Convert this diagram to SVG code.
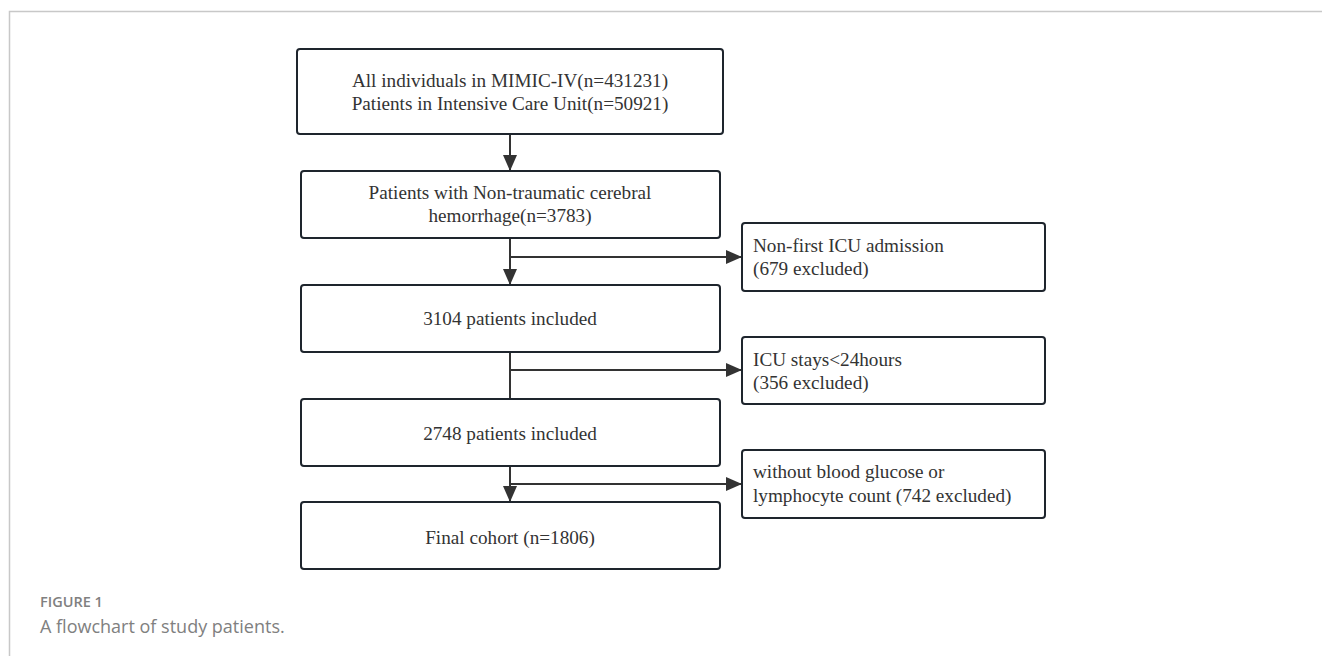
<svg xmlns="http://www.w3.org/2000/svg" width="1322" height="656" viewBox="0 0 1322 656">
<style>
.box{fill:#fff;stroke:#1e252d;stroke-width:2}
.t{font-family:"Liberation Serif","Times New Roman",serif;font-size:19.2px;fill:#333}
.c{text-anchor:middle}
.ln{stroke:#333;stroke-width:2;fill:none}
.cap{font-family:"Open Sans",Lato,sans-serif;fill:#808080}
</style>
<defs>
<marker id="ah2" viewBox="0 0 16 14" refX="16" refY="7" markerWidth="16" markerHeight="14" markerUnits="userSpaceOnUse" orient="auto">
<path d="M0,0 L16,7 L0,14 z" fill="#333"/>
</marker>
</defs>
<rect width="1322" height="656" fill="#fff"/>
<path d="M9.5,656 V11.5 H1322" stroke="#c8c8c8" stroke-width="1.5" fill="none"/>
<g id="connectors">
<line class="ln" x1="510" y1="134" x2="510" y2="171" marker-end="url(#ah2)"/>
<line class="ln" x1="510" y1="238" x2="510" y2="285" marker-end="url(#ah2)"/>
<line class="ln" x1="510" y1="257" x2="742" y2="257" marker-end="url(#ah2)"/>
<line class="ln" x1="510" y1="352" x2="510" y2="399"/>
<line class="ln" x1="510" y1="370" x2="742" y2="370" marker-end="url(#ah2)"/>
<line class="ln" x1="510" y1="466" x2="510" y2="502" marker-end="url(#ah2)"/>
<line class="ln" x1="510" y1="484" x2="742" y2="484" marker-end="url(#ah2)"/>
</g>
<g id="n1">
<rect class="box" x="297" y="49" width="426" height="85" rx="3"/>
<text class="t c" x="510" y="87">All individuals in MIMIC-IV(n=431231)</text>
<text class="t c" x="510" y="110">Patients in Intensive Care Unit(n=50921)</text>
</g>
<g id="n2">
<rect class="box" x="301" y="171" width="419" height="67" rx="3"/>
<text class="t c" x="510" y="199">Patients with Non-traumatic cerebral</text>
<text class="t c" x="510" y="222">hemorrhage(n=3783)</text>
</g>
<g id="n3">
<rect class="box" x="301" y="285" width="419" height="67" rx="3"/>
<text class="t c" x="510" y="325">3104 patients included</text>
</g>
<g id="n4">
<rect class="box" x="301" y="399" width="419" height="67" rx="3"/>
<text class="t c" x="510" y="440">2748 patients included</text>
</g>
<g id="n5">
<rect class="box" x="301" y="502" width="419" height="67" rx="3"/>
<text class="t c" x="510" y="544">Final cohort (n=1806)</text>
</g>
<g id="e1">
<rect class="box" x="742" y="223" width="303" height="68" rx="3"/>
<text class="t" x="753" y="252">Non-first ICU admission</text>
<text class="t" x="753" y="275">(679 excluded)</text>
</g>
<g id="e2">
<rect class="box" x="742" y="337" width="303" height="67" rx="3"/>
<text class="t" x="753" y="366">ICU stays&lt;24hours</text>
<text class="t" x="753" y="389">(356 excluded)</text>
</g>
<g id="e3">
<rect class="box" x="742" y="450" width="303" height="68" rx="3"/>
<text class="t" x="753" y="478">without blood glucose or</text>
<text class="t" x="753" y="502">lymphocyte count (742 excluded)</text>
</g>
<g id="caption">
<text class="cap" x="40" y="607" font-size="14.5" font-weight="600">FIGURE 1</text>
<text class="cap" x="40" y="633" font-size="18">A flowchart of study patients.</text>
</g>
</svg>
